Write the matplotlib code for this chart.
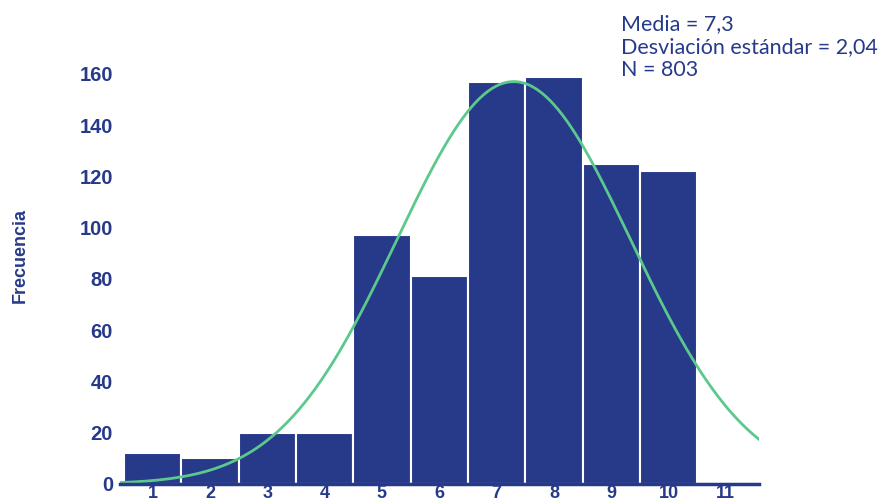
import matplotlib.pyplot as plt
import numpy as np

# Datos del histograma
clases = [1, 2, 3, 4, 5, 6, 7, 8, 9, 10, 11]
frecuencias = [12, 10, 20, 20, 97, 81, 157, 159, 125, 122, 0]
media = 7.3
desviacion = 2.04
n_total = 803
lineas_texto = ['Media = 7,3', 'Desviación estándar = 2,04', 'N = 803']

azul = '#273a8a'
verde = '#5cc98c'

fig = plt.figure(figsize=(8.84, 5.01), dpi=100)
x_min, x_max = 0.43, 11.58
ax = fig.add_axes([0.1357, 0.034, 0.723, 0.8695])

ax.bar(clases, frecuencias, width=1.0, color=azul, edgecolor='white', linewidth=1.5)

# Curva normal ajustada (media, desviación y N del propio gráfico)
x = np.linspace(x_min, x_max, 300)
y = n_total / (desviacion * np.sqrt(2 * np.pi)) * np.exp(-0.5 * ((x - media) / desviacion) ** 2)
ax.plot(x, y, color=verde, linewidth=2)

ax.set_xlim(x_min, x_max)
ax.set_ylim(0, 170)
ax.set_xticks(clases)
ax.set_yticks(range(0, 161, 20))
for s in ['top', 'right', 'left']:
    ax.spines[s].set_visible(False)
ax.spines['bottom'].set_color(azul)
ax.spines['bottom'].set_linewidth(2.5)
ax.tick_params(length=0, colors=azul)
ax.tick_params(axis='y', pad=5, labelsize=14.5)
ax.tick_params(axis='x', pad=1, labelsize=13)
for lab in ax.get_xticklabels() + ax.get_yticklabels():
    lab.set_fontfamily('Liberation Sans')
    lab.set_fontweight('bold')

fig.text(0.023, 0.49, 'Frecuencia', rotation=90, color=azul, fontsize=13,
         fontweight='bold', family='Liberation Sans', ha='center', va='center')

for i, linea in enumerate(lineas_texto):
    fig.text(0.702, 0.940 - i * 0.046, linea, color=azul, fontsize=15.5,
             family='Lato', ha='left', va='baseline')

fig.savefig('out.png', dpi=100)
